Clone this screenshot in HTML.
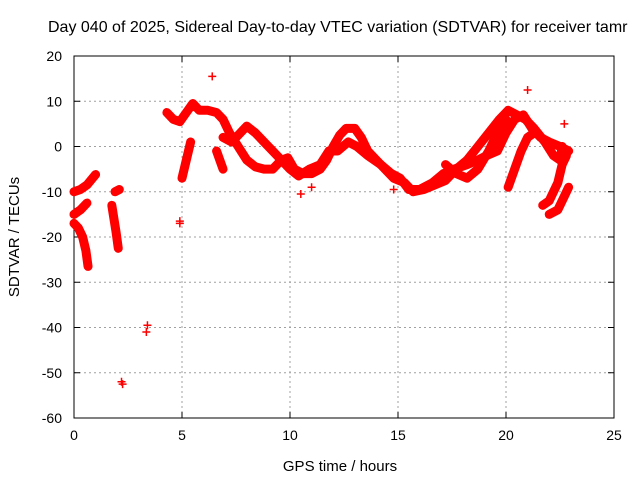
<!DOCTYPE html>
<html><head><meta charset="utf-8"><style>
body{margin:0;background:#fff}
svg{display:block;font-family:"Liberation Sans",sans-serif}
</style></head><body>
<svg id="chart" width="640" height="480" viewBox="0 0 640 480">
<rect width="640" height="480" fill="#fff"/>
<text x="48" y="32" font-size="16">Day 040 of 2025, Sidereal Day-to-day VTEC variation (SDTVAR) for receiver tamr</text>
<g id="grid"></g>
<g id="axes"></g>
<g id="marks"></g>
<text x="340" y="471" font-size="15" text-anchor="middle">GPS time / hours</text>
<text transform="translate(19,237) rotate(-90)" font-size="15" text-anchor="middle">SDTVAR / TECUs</text>
</svg>
<script>
const xTicks=[0,5,10,15,20,25];
const yTicks=[20,10,0,-10,-20,-30,-40,-50,-60];
const trackA=[[0,-10],[0.3,-9.5],[0.6,-8.5],[1.0,-6.2]];
const trackB=[[0,-15],[0.3,-14],[0.6,-12.5]];
const trackC=[[0,-17],[0.2,-18],[0.4,-20],[0.55,-23],[0.65,-26.5]];
const trackD=[[1.75,-13],[1.85,-16],[1.95,-19],[2.05,-22.5]];
const trackE=[[1.9,-10],[2.1,-9.5]];
const trackMain=[[4.3,7.5],[4.6,6],[4.9,5.5],[5.2,7.5],[5.5,9.5],[5.8,8],[6.2,8],[6.6,7.5],[6.9,6],[7.2,3],[7.6,0],[8.0,-3],[8.4,-4.5],[8.8,-5],[9.2,-5],[9.6,-3],[9.9,-2.5],[10.2,-5],[10.6,-6],[11.0,-6],[11.4,-5],[11.7,-3],[12.0,0],[12.3,2.5],[12.6,4],[13.0,4],[13.3,2],[13.6,-1],[14.0,-3],[14.4,-5],[14.8,-7],[15.3,-8],[15.7,-10],[16.2,-9.5],[16.7,-8.5],[17.2,-7.5],[17.7,-5],[18.2,-3],[18.7,0],[19.2,3],[19.7,6],[20.1,8],[20.5,7],[20.9,6],[21.3,4],[21.8,1],[22.2,-2],[22.5,-3],[22.6,0]];
const trackSecond=[[6.9,2],[7.3,1],[7.7,3],[8.0,4.5],[8.4,3],[8.8,1],[9.2,-1],[9.6,-3],[10.0,-5],[10.4,-6.5],[10.9,-5],[11.4,-4],[11.8,-1],[12.2,-1],[12.7,1],[13.1,0],[13.6,-2],[14.2,-4],[14.7,-6],[15.1,-7],[15.5,-9.5],[16.0,-9.5],[16.6,-8],[17.1,-6],[17.6,-5],[18.2,-4],[18.7,-3],[19.1,-2],[19.6,-1],[20.0,3],[20.4,6],[20.8,7],[21.2,4],[21.6,2],[22.0,1],[22.5,0],[22.9,-1]];
const trackThird=[[17.2,-4],[17.7,-6],[18.2,-7],[18.7,-5],[19.2,-1],[19.6,3],[20.0,6]];
const trackFourth=[[20.1,-9],[20.4,-5],[20.7,-1],[21.0,2],[21.3,3]];
const trackFifth=[[21.7,-13],[22.0,-12],[22.4,-8],[22.6,-4],[22.8,-2]];
const trackSixth=[[22.0,-15],[22.4,-14],[22.7,-11],[22.9,-9]];
const stalk1=[[5.0,-7],[5.2,-3],[5.4,1]];
const stalk2=[[6.6,-1],[6.9,-5]];
const outliers=[[6.4,15.5],[3.35,-41],[3.4,-39.5],[2.2,-52],[2.25,-52.5],[4.9,-16.5],[4.9,-17],[21.0,12.5],[22.7,5],[10.5,-10.5],[14.8,-9.5],[11.0,-9]];
const tracks=[trackA,trackB,trackC,trackD,trackE,trackMain,trackSecond,trackThird,trackFourth,trackFifth,trackSixth,stalk1,stalk2];

const L=74,R=614,T=56,B=418;
const sx=v=>L+(v-0)/25*(R-L);
const sy=v=>T+(20-v)/80*(B-T);
const NS="http://www.w3.org/2000/svg";
function mk(tag,attrs,parent){const e=document.createElementNS(NS,tag);for(const k in attrs)e.setAttribute(k,attrs[k]);parent.appendChild(e);return e;}
const grid=document.getElementById('grid'),axes=document.getElementById('axes'),marks=document.getElementById('marks');
xTicks.forEach(t=>{
  const x=sx(t);
  if(t>0&&t<25){const g=mk('line',{x1:x,y1:T,x2:x,y2:B,stroke:'#a0a0a0','stroke-dasharray':'2,3'},grid);
  
  }
  mk('line',{x1:x,y1:B,x2:x,y2:B-6,stroke:'#000'},axes);
  mk('line',{x1:x,y1:T,x2:x,y2:T+6,stroke:'#000'},axes);
  const lb=mk('text',{x:x,y:B+22,'font-size':14,'text-anchor':'middle'},axes);lb.textContent=t;
  
  
});
yTicks.forEach(t=>{
  const y=sy(t);
  if(t<20&&t>-60){const g=mk('line',{x1:L,y1:y,x2:R,y2:y,stroke:'#a0a0a0','stroke-dasharray':'2,3'},grid);
  
  }
  mk('line',{x1:L,y1:y,x2:L+6,y2:y,stroke:'#000'},axes);
  mk('line',{x1:R,y1:y,x2:R-6,y2:y,stroke:'#000'},axes);
  const lb=mk('text',{x:L-12,y:y+5,'font-size':14,'text-anchor':'end'},axes);lb.textContent=t;
  
  
});
const border=mk('rect',{x:L,y:T,width:R-L,height:B-T,fill:'none',stroke:'#000'},axes);


function plus(p,par){
  const x=sx(p[0]),y=sy(p[1]);
  const g=mk('path',{d:`M${x-4},${y}H${x+4}M${x},${y-4}V${y+4}`,stroke:'#f00','stroke-width':1.5},par);
  
  
}
tracks.forEach(tr=>{
  const pl=mk('polyline',{points:tr.map(p=>sx(p[0])+','+sy(p[1])).join(' '),fill:'none',stroke:'#f00','stroke-width':9,'stroke-linejoin':'round','stroke-linecap':'round'},marks);
  
  
  tr.forEach(p=>plus(p,marks));
});
outliers.forEach(p=>plus(p,marks));
</script>
</body></html>
